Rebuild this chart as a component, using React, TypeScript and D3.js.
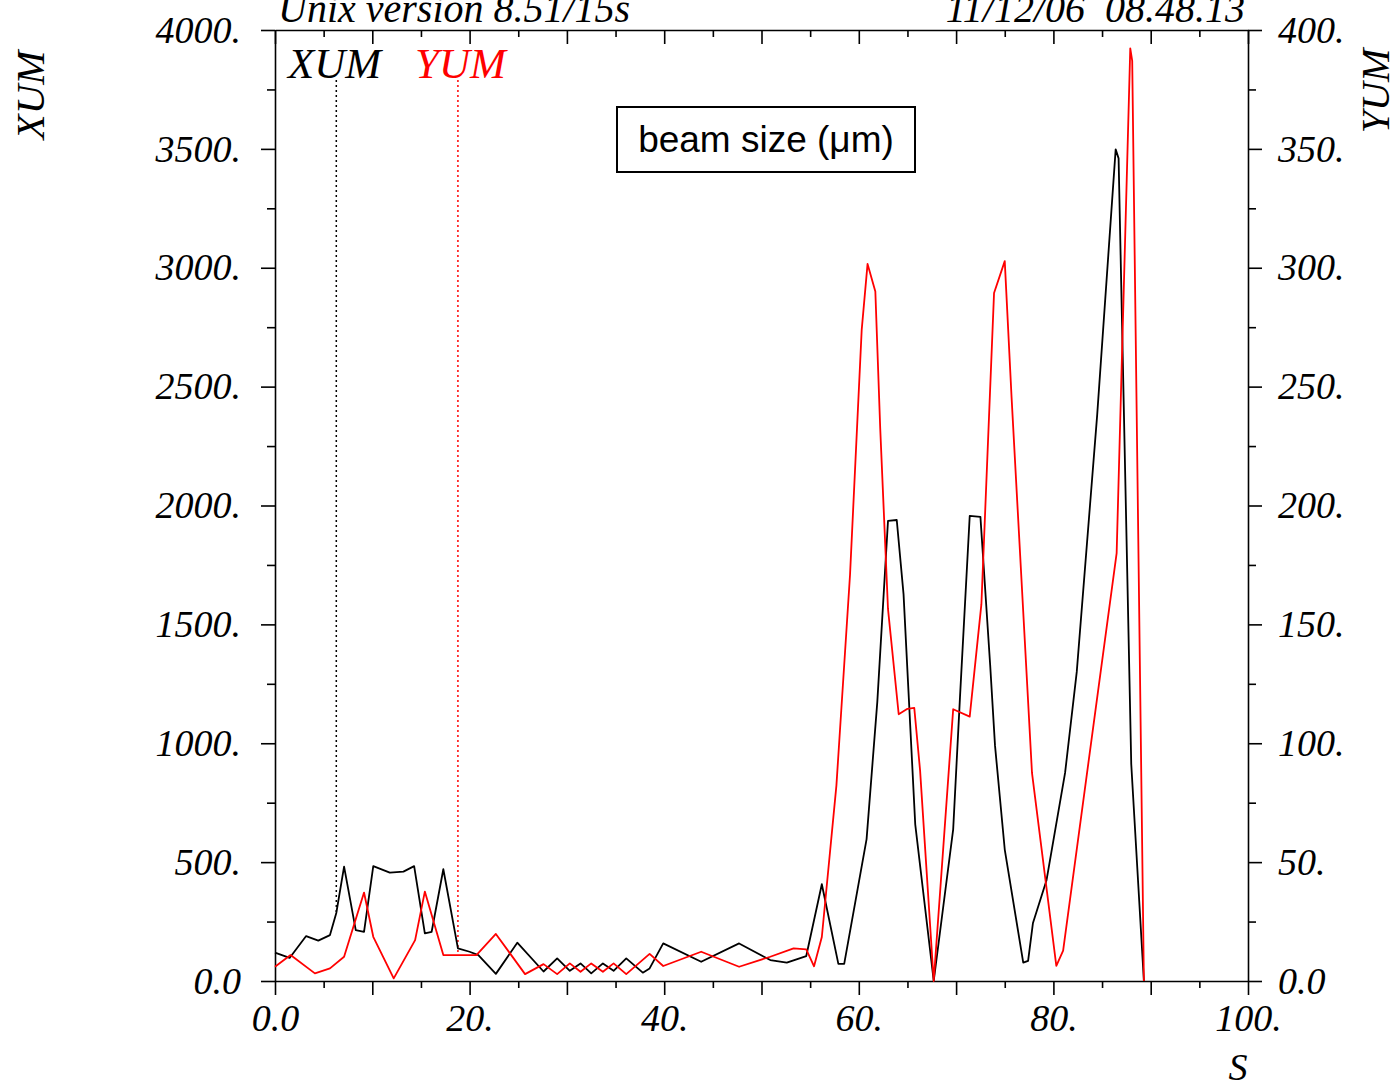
import React, { useEffect, useRef } from 'react';
import * as d3 from 'd3';

// horizontal beam size along S (left axis, um)
const xumS = [0, 1.5, 3.2, 4.45, 5.65, 6.3, 7.1, 8.3, 9.15, 10.1, 11.8, 13.2, 14.3, 15.4, 16.1, 17.3, 18.8, 20.0, 20.9, 22.7, 24.9, 27.6, 29.0, 30.3, 31.4, 32.5, 33.7, 34.8, 36.1, 37.8, 38.5, 39.9, 43.8, 47.7, 50.9, 52.6, 54.6, 56.2, 57.9, 58.5, 60.8, 61.9, 63.0, 63.9, 64.6, 65.8, 67.7, 69.7, 70.4, 71.4, 72.5, 73.5, 74.0, 75.0, 76.9, 77.4, 77.9, 79.3, 81.2, 82.4, 84.5, 86.4, 86.7, 88.0, 89.3];
const xumV = [119, 97, 189, 170, 193, 286, 481, 214, 207, 483, 456, 460, 483, 200, 207, 470, 137, 123, 109, 30, 161, 40, 95, 43, 74, 32, 74, 43, 95, 35, 53, 158, 81, 158, 88, 77, 105, 407, 72, 72, 597, 1173, 1935, 1939, 1626, 659, 0, 638, 1194, 1956, 1952, 1330, 990, 553, 77, 85, 244, 425, 875, 1300, 2381, 3498, 3460, 913, 0];

// vertical beam size along S (right axis, um)
const yumS = [0, 1.6, 4.1, 5.65, 7.1, 9.15, 10.1, 12.2, 14.4, 15.4, 17.3, 20.7, 22.7, 25.7, 27.6, 29.0, 30.3, 31.4, 32.5, 33.7, 34.8, 36.1, 38.5, 39.9, 43.8, 47.7, 50.9, 53.3, 54.6, 55.4, 56.2, 57.7, 59.1, 60.3, 60.9, 61.7, 62.2, 63.0, 64.1, 65.0, 65.7, 66.3, 67.7, 69.7, 71.4, 72.6, 73.9, 75.0, 75.7, 77.8, 80.3, 81.0, 86.5, 87.9, 88.1, 89.3];
const yumV = [6.0, 10.9, 3.2, 5.3, 10.2, 37.2, 18.6, 1.1, 17.2, 37.6, 10.9, 10.9, 19.8, 2.9, 7.1, 2.9, 7.4, 3.9, 7.4, 3.9, 7.4, 2.9, 11.4, 6.3, 12.3, 6.0, 10.2, 13.7, 13.3, 6.2, 18.5, 82.3, 171, 274, 301.6, 290, 232.6, 156.5, 112.2, 114.5, 114.9, 88.5, 0, 114.3, 111.2, 158.5, 289.4, 302.8, 245.6, 87.5, 6.4, 12.8, 180, 392.3, 387, 0];

const xTicks = [0, 20, 40, 60, 80, 100];
const leftTicks = [0, 500, 1000, 1500, 2000, 2500, 3000, 3500, 4000];
const rightTicks = [0, 50, 100, 150, 200, 250, 300, 350, 400];
const markerXum = 6.3;
const markerYum = 18.8;

const serif = "'Liberation Serif', 'Times New Roman', serif";
const sans = "'Liberation Sans', Arial, sans-serif";

const fmt = (v: number) => (v === 0 ? '0.0' : `${v}.`);

const interp = (s: number[], v: number[], at: number) => {
  const i = d3.bisectRight(s, at);
  const t = (at - s[i - 1]) / (s[i] - s[i - 1]);
  return v[i - 1] + t * (v[i] - v[i - 1]);
};

const App = () => {
  const axRef = useRef<SVGGElement>(null);

  const x = d3.scaleLinear().domain([0, 100]).range([275, 1248]);
  const yL = d3.scaleLinear().domain([0, 4000]).range([981, 30]);
  const yR = d3.scaleLinear().domain([0, 400]).range([981, 30]);

  const xumLine = d3.line<number>().x((d, i) => x(xumS[i])).y((d) => yL(d))(xumV);
  const yumLine = d3.line<number>().x((d, i) => x(yumS[i])).y((d) => yR(d))(yumV);

  useEffect(() => {
    const g = d3.select(axRef.current);
    g.selectAll('*').remove();

    const style = (sel: any) => {
      sel.attr('font-family', serif).attr('font-size', 38).attr('font-style', 'italic');
      sel.selectAll('line').attr('stroke', '#000').attr('stroke-width', 1.6);
      sel.selectAll('path').attr('stroke', '#000').attr('stroke-width', 1.6);
      sel.selectAll('text').attr('fill', '#000');
    };
    const noLabel = () => '';

    // bottom
    g.append('g').attr('transform', 'translate(0,981)')
      .call(d3.axisBottom(x).tickValues(d3.range(0, 101, 10)).tickSize(14).tickSizeOuter(0).tickPadding(9)
        .tickFormat((v: any) => (xTicks.includes(v) ? fmt(v) : '')))
      .call(style);
    g.append('g').attr('transform', 'translate(0,981)')
      .call(d3.axisBottom(x).tickValues(d3.range(5, 100, 10)).tickSize(7).tickFormat(noLabel))
      .call(style).call((s: any) => s.select('.domain').remove());

    // top (ticks inside)
    g.append('g').attr('transform', 'translate(0,30)')
      .call(d3.axisTop(x).tickValues(d3.range(0, 101, 10)).tickSize(-14).tickSizeOuter(0).tickFormat(noLabel))
      .call(style);
    g.append('g').attr('transform', 'translate(0,30)')
      .call(d3.axisTop(x).tickValues(d3.range(5, 100, 10)).tickSize(-7).tickFormat(noLabel))
      .call(style).call((s: any) => s.select('.domain').remove());

    // left
    g.append('g').attr('transform', 'translate(275,0)')
      .call(d3.axisLeft(yL).tickValues(leftTicks).tickSize(14).tickSizeOuter(0).tickPadding(20).tickFormat((v: any) => fmt(v)))
      .call(style);
    g.append('g').attr('transform', 'translate(275,0)')
      .call(d3.axisLeft(yL).tickValues(d3.range(250, 4000, 500)).tickSize(8).tickFormat(noLabel))
      .call(style).call((s: any) => s.select('.domain').remove());

    // right
    g.append('g').attr('transform', 'translate(1248,0)')
      .call(d3.axisRight(yR).tickValues(rightTicks).tickSize(14).tickSizeOuter(0).tickPadding(16).tickFormat((v: any) => fmt(v)))
      .call(style);
    g.append('g').attr('transform', 'translate(1248,0)')
      .call(d3.axisRight(yR).tickValues(d3.range(25, 400, 50)).tickSize(8).tickFormat(noLabel))
      .call(style).call((s: any) => s.select('.domain').remove());
  }, []);

  const mx = x(markerXum);
  const my = x(markerYum);

  return (
    <svg width={1396} height={1084} style={{ position: 'absolute', left: 0, top: 0, background: '#fff' }}>
      <rect width={1396} height={1084} fill="#fff" />
      <g ref={axRef} />

      {/* header */}
      <text x={278} y={22} fontFamily={serif} fontStyle="italic" fontSize={40}>Unix version 8.51/15s</text>
      <text x={1245} y={22} fontFamily={serif} fontStyle="italic" fontSize={40} textAnchor="end" style={{ whiteSpace: 'pre' }}>
        {'11/12/06  08.48.13'}
      </text>

      {/* axis titles */}
      <text transform="translate(44,95) rotate(-90)" fontFamily={serif} fontStyle="italic" fontSize={41} textAnchor="middle">XUM</text>
      <text transform="translate(1389,91) rotate(-90)" fontFamily={serif} fontStyle="italic" fontSize={40} textAnchor="middle">YUM</text>
      <text x={1238} y={1080} fontFamily={serif} fontStyle="italic" fontSize={38} textAnchor="middle">S</text>

      {/* legend */}
      <text x={288} y={78} fontFamily={serif} fontStyle="italic" fontSize={43} fill="#000">XUM</text>
      <text x={415} y={78} fontFamily={serif} fontStyle="italic" fontSize={43} fill="#ff0000">YUM</text>
      <line x1={mx} x2={mx} y1={80} y2={yL(interp(xumS, xumV, markerXum))} stroke="#000" strokeWidth={1.5} strokeDasharray="2,3" />
      <line x1={my} x2={my} y1={80} y2={yR(interp(yumS, yumV, markerYum))} stroke="#ff0000" strokeWidth={1.5} strokeDasharray="2,3" />

      {/* curves */}
      <path d={xumLine ?? ''} fill="none" stroke="#000" strokeWidth={1.8} strokeLinejoin="round" />
      <path d={yumLine ?? ''} fill="none" stroke="#ff0000" strokeWidth={1.8} strokeLinejoin="round" />

      {/* annotation box */}
      <rect x={617} y={107} width={298} height={65} fill="#fff" stroke="#000" strokeWidth={2} />
      <text x={766} y={152} fontFamily={sans} fontSize={37} textAnchor="middle">beam size (μm)</text>
    </svg>
  );
};

export default App;
